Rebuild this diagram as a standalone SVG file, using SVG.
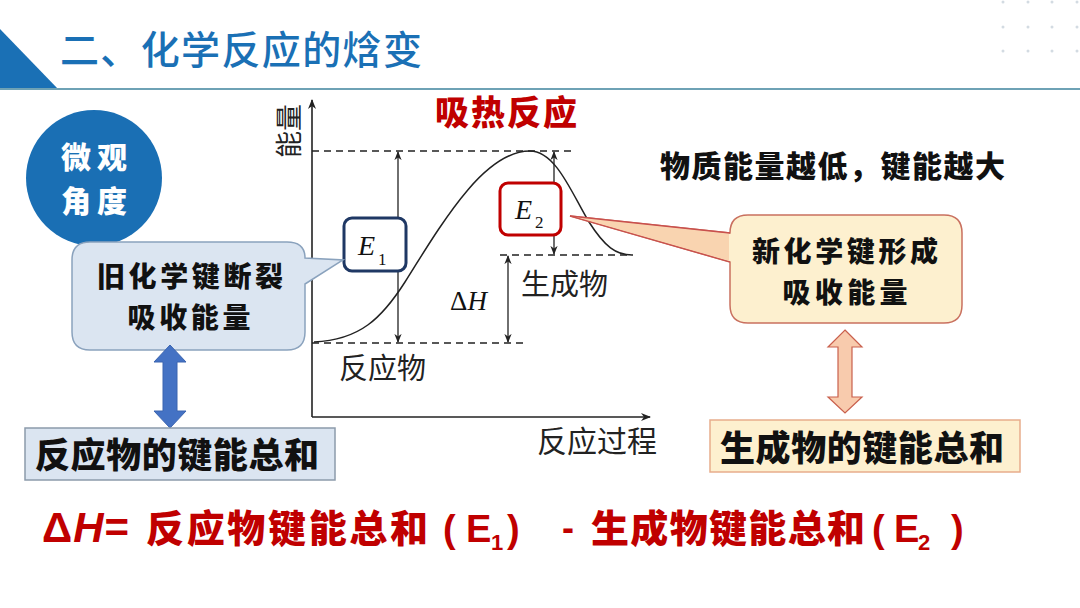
<svg xmlns="http://www.w3.org/2000/svg" width="1080" height="608" viewBox="0 0 1080 608">
<style>
.cjkb{font-family:"Noto Sans CJK SC","Noto Sans",sans-serif;font-weight:900;}
.cjk{font-family:"Noto Sans CJK SC","Noto Sans",sans-serif;font-weight:400;fill:#222;}
.ser{font-family:"Liberation Serif","DejaVu Serif",serif;fill:#111;}
.ax{stroke:#222;stroke-width:1.6;fill:none;}
.dash{stroke:#222;stroke-width:1.3;stroke-dasharray:7 5;fill:none;}
.dim{stroke:#222;stroke-width:1.3;fill:none;marker-start:url(#ah);marker-end:url(#ah);}
.dot{fill:#d3dbe2;}
.red{fill:#c00000;}
.lat{font-family:"Liberation Sans","Noto Sans",sans-serif;font-weight:700;}
</style>
<defs>
<marker id="ah" viewBox="0 0 10 10" refX="9" refY="5" markerWidth="9" markerHeight="9" markerUnits="userSpaceOnUse" orient="auto-start-reverse">
<path d="M0,1 L10,5 L0,9 L3,5 Z" fill="#222"/>
</marker>
<marker id="axh" viewBox="0 0 10 10" refX="9" refY="5" markerWidth="10" markerHeight="10" markerUnits="userSpaceOnUse" orient="auto">
<path d="M0,1 L10,5 L0,9 L3,5 Z" fill="#222"/>
</marker>
</defs>
<rect width="1080" height="608" fill="#ffffff"/>

<g id="header">
<polygon points="0,29 58,89 0,89" fill="#1a70b5"/>
<line x1="0" y1="89" x2="1080" y2="89" stroke="#6ea2b5" stroke-width="2.2"/>
<text x="60" y="64" font-family="Noto Sans CJK SC, sans-serif" font-weight="500" font-size="39" fill="#1a70b5" textLength="362">二、化学反应的焓变</text>
<g>
<circle class="dot" cx="1003" cy="2" r="1.5"/><circle class="dot" cx="1028" cy="2" r="1.5"/><circle class="dot" cx="1052" cy="2" r="1.5"/><circle class="dot" cx="1077" cy="2" r="1.5"/>
<circle class="dot" cx="1003" cy="27" r="1.5"/><circle class="dot" cx="1028" cy="27" r="1.5"/><circle class="dot" cx="1052" cy="27" r="1.5"/><circle class="dot" cx="1077" cy="27" r="1.5"/>
<circle class="dot" cx="1003" cy="51" r="1.5"/><circle class="dot" cx="1028" cy="51" r="1.5"/><circle class="dot" cx="1052" cy="51" r="1.5"/><circle class="dot" cx="1077" cy="51" r="1.5"/>
</g>
</g>

<g id="micro-circle">
<circle cx="94" cy="178" r="68" fill="#1a6fb4"/>
<text class="cjkb" x="94" y="168" font-size="30" fill="#ffffff" text-anchor="middle" textLength="66">微观</text>
<text class="cjkb" x="94" y="212" font-size="30" fill="#ffffff" text-anchor="middle" textLength="66">角度</text>
</g>

<g id="chart">
<line class="ax" x1="312" y1="417" x2="312" y2="100" marker-end="url(#axh)"/>
<line class="ax" x1="312" y1="417" x2="650" y2="417" marker-end="url(#axh)"/>
<text class="cjk" font-size="27" text-anchor="middle" transform="translate(299,131) rotate(-90)">能量</text>
<line class="dash" x1="312" y1="151" x2="574" y2="151"/>
<line class="dash" x1="500" y1="255" x2="633" y2="255"/>
<line class="dash" x1="312" y1="343" x2="525" y2="343"/>
<path d="M314,342 C360,340 382,318 405,282 C445,218 485,151 530,151 C556,151 572,194 589,222 C605,247 616,255 632,255" stroke="#222" stroke-width="1.5" fill="none"/>
<line class="dim" x1="398" y1="152" x2="398" y2="342"/>
<line class="dim" x1="508" y1="256" x2="508" y2="342"/>
<line class="dim" x1="554" y1="152" x2="554" y2="254"/>
<text class="ser" x="450" y="310" font-size="27">Δ<tspan font-style="italic">H</tspan></text>
<text class="cjk" x="521" y="295" font-size="29">生成物</text>
<text class="cjk" x="339" y="379" font-size="29">反应物</text>
<text class="cjk" x="537" y="452" font-size="30">反应过程</text>
</g>

<g id="title-endo">
<text class="cjkb red" x="435" y="125" font-size="34" textLength="142">吸热反应</text>
</g>

<g id="note">
<text class="cjkb" x="660" y="177" font-size="30" fill="#111" textLength="345">物质能量越低，键能越大</text>
</g>

<g id="e1-box">
<rect x="344" y="218" width="62" height="53" rx="8" fill="#ffffff" stroke="#1f3864" stroke-width="3"/>
<text class="ser" x="358" y="255" font-size="28" font-style="italic">E</text>
<text class="ser" x="378" y="265" font-size="17">1</text>
</g>

<g id="e2-box">
<rect x="500" y="183" width="61" height="52" rx="8" fill="#ffffff" stroke="#c00000" stroke-width="3"/>
<text class="ser" x="515" y="219" font-size="28" font-style="italic">E</text>
<text class="ser" x="535" y="228" font-size="17">2</text>
</g>

<g id="callout-left">
<path d="M90,242 H287 Q305,242 305,258 L343,260 L305,284 V332 Q305,350 287,350 H90 Q72,350 72,332 V260 Q72,242 90,242 Z" fill="#dbe5f1" stroke="#8aa2bd" stroke-width="1.5"/>
<text class="cjkb" x="190" y="287" font-size="28" fill="#111" text-anchor="middle" textLength="186">旧化学键断裂</text>
<text class="cjkb" x="189" y="328" font-size="28" fill="#111" text-anchor="middle" textLength="123">吸收能量</text>
</g>

<g id="callout-right">
<path d="M748,215 H944 Q962,215 962,233 V305 Q962,323 944,323 H748 Q730,323 730,305 V262 L570,216 L730,233 Q730,215 748,215 Z" fill="#fdf0cf" stroke="#c9705f" stroke-width="1.5"/>
<polygon points="571,216 729,233.5 729,261" fill="#f9d4b0"/>
<line x1="570" y1="216" x2="730" y2="233" stroke="#c9504d" stroke-width="1.3"/>
<line x1="570" y1="216" x2="730" y2="262" stroke="#c9504d" stroke-width="1.3"/>
<text class="cjkb" x="845" y="262" font-size="28" fill="#111" text-anchor="middle" textLength="186">新化学键形成</text>
<text class="cjkb" x="845" y="303" font-size="28" fill="#111" text-anchor="middle" textLength="125">吸收能量</text>
</g>

<g id="connectors">
<polygon points="170,345 186,362 177,362 177,411 186,411 170,428 154,411 163,411 163,362 154,362" fill="#4472c4" stroke="#3a64b0" stroke-width="1"/>
<polygon points="845,330 862,347 852,347 852,397 862,397 845,413 828,397 838,397 838,347 828,347" fill="#f8cbad" stroke="#c9604d" stroke-width="1.2"/>
</g>

<g id="box-reactants">
<rect x="25" y="428" width="310" height="52" fill="#dbe5f1" stroke="#8c9bab" stroke-width="1.5"/>
<text class="cjkb" x="177" y="468" font-size="35" fill="#111" text-anchor="middle" textLength="284">反应物的键能总和</text>
</g>

<g id="box-products">
<rect x="710" y="420" width="310" height="52" fill="#fdf0cf" stroke="#e7ad8c" stroke-width="1.5"/>
<text class="cjkb" x="862" y="461" font-size="35" fill="#111" text-anchor="middle" textLength="284">生成物的键能总和</text>
</g>

<g id="formula">
<text class="lat red" x="42" y="542" font-size="42" letter-spacing="1">Δ<tspan font-style="italic">H</tspan>=</text>
<text class="cjkb red" x="146" y="542" font-size="38" textLength="282">反应物键能总和</text>
<text class="lat red" x="443" y="542" font-size="38">(<tspan x="466">E</tspan><tspan x="491" dy="8" font-size="22">1</tspan><tspan x="507" dy="-8">)</tspan></text>
<text class="lat red" x="562" y="540" font-size="36">-</text>
<text class="cjkb red" x="591" y="542" font-size="38" textLength="274">生成物键能总和</text>
<text class="lat red" x="872" y="542" font-size="38">(<tspan x="894">E</tspan><tspan x="918" dy="8" font-size="22">2</tspan><tspan x="951" dy="-8">)</tspan></text>
</g>
</svg>
